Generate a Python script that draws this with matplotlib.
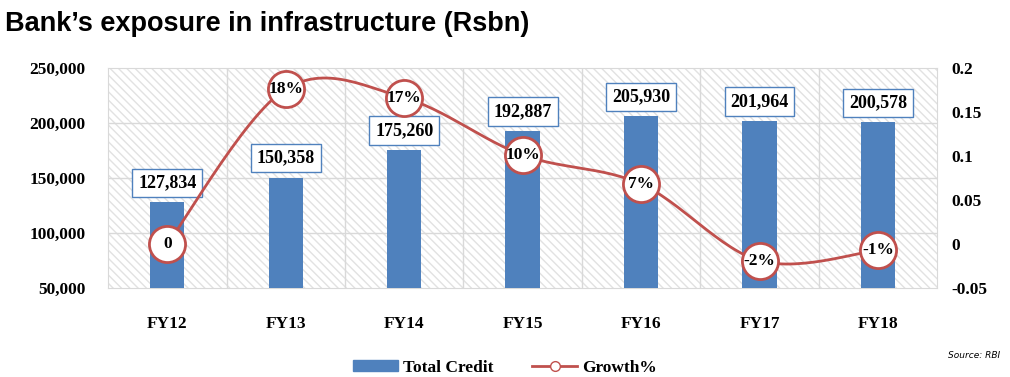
import numpy as np
import matplotlib
matplotlib.use("Agg")
import matplotlib.pyplot as plt
from matplotlib.lines import Line2D
from matplotlib.patches import Patch, Rectangle

years = ["FY12", "FY13", "FY14", "FY15", "FY16", "FY17", "FY18"]
total_credit = [127834, 150358, 175260, 192887, 205930, 201964, 200578]
growth = [0.0, 0.176, 0.166, 0.101, 0.068, -0.019, -0.007]
growth_labels = ["0", "18%", "17%", "10%", "7%", "-2%", "-1%"]

blue = "#4F81BD"
red = "#C0504D"
serif = "Liberation Serif"

plt.rcParams["hatch.linewidth"] = 1.0

fig = plt.figure(figsize=(10.1, 3.77), dpi=100)
ax = fig.add_axes([0.107, 0.236, 0.821, 0.584])
ax2 = ax.twinx()

x = np.arange(len(years))
ax.bar(x, total_credit, width=0.29, color=blue, zorder=3)
ax.set_xlim(-0.5, len(years) - 0.5)
ax.set_ylim(50000, 250000)
ax.set_yticks(np.arange(50000, 250001, 50000))
ax.set_yticklabels([f"{v:,.0f}" for v in np.arange(50000, 250001, 50000)],
                   fontfamily=serif, fontweight="bold", fontsize=12.5)
ax.set_xticks(x)
ax.set_xticklabels(years, fontfamily=serif, fontweight="bold", fontsize=12.5)
ax.tick_params(axis="x", length=0, pad=20)
ax.tick_params(axis="y", length=0, pad=16)

# background hatch + grid
ax.add_patch(Rectangle((0, 0), 1, 1, transform=ax.transAxes, fc="white",
                       ec="#E2E2E2", lw=0, hatch="\\\\\\\\", zorder=0))
for v in [100000, 150000, 200000]:
    ax.axhline(v, color="#D9D9D9", lw=1, zorder=1)
for k in range(1, len(years)):
    ax.axvline(k - 0.5, color="#D9D9D9", lw=1, zorder=1)
for sp in ax.spines.values():
    sp.set_color("#D9D9D9")
for sp in ax2.spines.values():
    sp.set_visible(False)

for xi, v in zip(x, total_credit):
    ax.annotate(f"{v:,.0f}", (xi, v), xytext=(0, 14), textcoords="offset points",
                ha="center", va="center", fontfamily=serif, fontweight="bold",
                fontsize=13, zorder=5,
                bbox=dict(boxstyle="square,pad=0.32", fc="white", ec=blue, lw=1))

# smooth line (catmull-rom like excel smoothing)
pts = np.array(list(zip(x, growth)), dtype=float)
ext = np.vstack([pts[0], pts, pts[-1]])
sx, sy = [], []
for i in range(1, len(ext) - 2):
    p0, p1, p2, p3 = ext[i - 1], ext[i], ext[i + 1], ext[i + 2]
    t = np.linspace(0, 1, 30)[:, None]
    seg = 0.5 * ((2 * p1) + (-p0 + p2) * t + (2 * p0 - 5 * p1 + 4 * p2 - p3) * t ** 2
                 + (-p0 + 3 * p1 - 3 * p2 + p3) * t ** 3)
    sx.extend(seg[:, 0])
    sy.extend(seg[:, 1])
ax2.plot(sx, sy, color=red, lw=2, zorder=4)
ax2.plot(x, growth, "o", ms=26, mfc="white", mec=red, mew=2, zorder=5)
for xi, g, lab in zip(x, growth, growth_labels):
    ax2.text(xi, g, lab, ha="center", va="center", fontfamily=serif,
             fontweight="bold", fontsize=12.5, zorder=6)
ax2.set_ylim(-0.05, 0.2)
ax2.set_yticks([-0.05, 0, 0.05, 0.1, 0.15, 0.2])
ax2.set_yticklabels(["-0.05", "0", "0.05", "0.1", "0.15", "0.2"],
                    fontfamily=serif, fontweight="bold", fontsize=12.5)
ax2.tick_params(axis="y", length=0, pad=10)

fig.text(0.005, 0.936, "Bank\u2019s exposure in infrastructure (Rsbn)", fontfamily="Liberation Sans",
         fontweight="bold", fontsize=19.5, ha="left", va="center")
fig.text(0.99, 0.057, "Source: RBI", fontfamily="DejaVu Sans", style="italic",
         fontsize=6.5, ha="right", va="center")

handles = [Patch(color=blue, label="Total Credit"),
           Line2D([0], [0], color=red, lw=2, marker="o", ms=7, mfc="white", mec=red,
                  label="Growth%")]
fig.legend(handles=handles, loc="center", bbox_to_anchor=(0.5, 0.025), ncol=2, frameon=False,
           prop=dict(family=serif, weight="bold", size=12.5), handlelength=2.6,
           handletextpad=0.3, columnspacing=2.2, handleheight=0.6)

fig.savefig("out.png", dpi=100)
